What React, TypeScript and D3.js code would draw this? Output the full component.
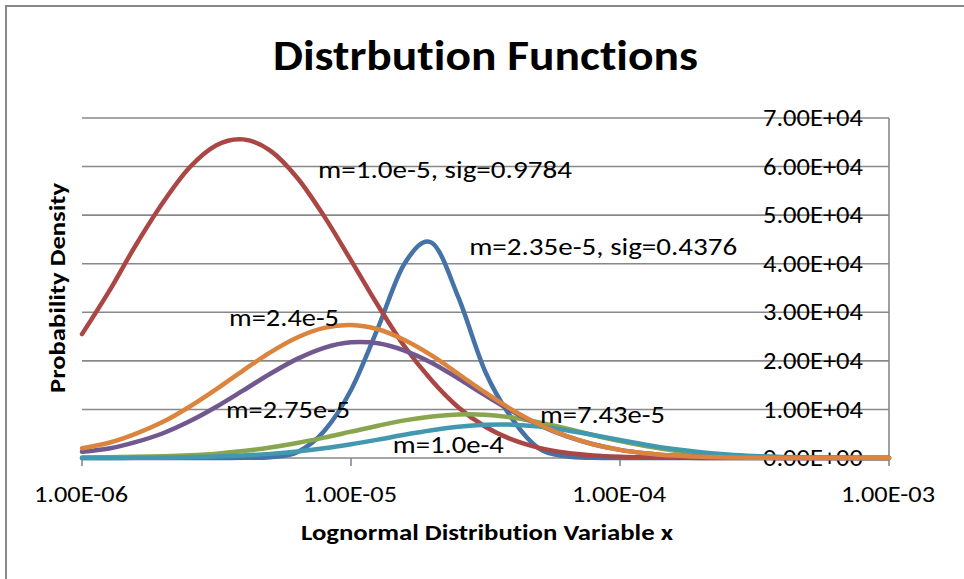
import React from "react";
import * as d3 from "d3";

// x samples (log spaced, as in the source sheet)
const xValues = [
  1.0e-6, 1.26e-6, 1.58e-6, 2.0e-6, 2.51e-6, 3.16e-6, 3.98e-6, 5.01e-6, 6.31e-6, 7.94e-6,
  1.0e-5, 1.26e-5, 1.58e-5, 2.0e-5, 2.51e-5, 3.16e-5, 3.98e-5, 5.01e-5, 6.31e-5, 7.94e-5,
  1.0e-4, 1.26e-4, 1.58e-4, 2.0e-4, 2.51e-4, 3.16e-4, 3.98e-4, 5.01e-4, 6.31e-4, 7.94e-4,
  1.0e-3,
];

const blueValues = [
  0, 0, 0, 0, 0, 5, 30, 150, 1200, 5500,
  14000, 26800, 40000, 44300, 33000, 17700, 8000, 1900, 350, 30,
  0, 0, 0, 0, 0, 0, 0, 0, 0, 0,
  0,
];
const redValues = [
  25500, 34300, 43700, 52600, 59800, 64400, 65600, 63300, 57700, 49800,
  40700, 31400, 23000, 15900, 10400, 6430, 3770, 2090, 1090, 540,
  255, 113, 47, 20, 8, 3, 1, 0, 0, 0,
  0,
];
const greenValues = [
  100, 160, 250, 380, 580, 900, 1420, 2150, 3080, 4190,
  5420, 6650, 7740, 8550, 8960, 8900, 8330, 7330, 6080, 4740,
  3480, 2400, 1560, 960, 550, 300, 150, 73, 33, 14,
  6,
];
const purpleValues = [
  1300, 1960, 3260, 5100, 7550, 10550, 13920, 17340, 20410, 22690,
  23820, 23610, 22110, 19560, 16340, 12880, 9600, 6760, 4490, 2820,
  1670, 930, 490, 250, 116, 52, 22, 9, 4, 1,
  0,
];
const tealValues = [
  7, 16, 37, 77, 153, 286, 507, 850, 1340, 2010,
  2840, 3790, 4780, 5700, 6420, 6830, 6860, 6480, 5730, 4750,
  3700, 2690, 1840, 1180, 710, 400, 210, 104, 48, 21,
  9,
];
const orangeValues = [
  2000, 3130, 4960, 7440, 10560, 14190, 18060, 21760, 24820, 26800,
  27400, 26510, 24280, 21060, 17290, 13440, 9890, 6890, 4540, 2830,
  1670, 940, 500, 250, 120, 55, 24, 10, 4, 2,
  1,
];

const xTicks = [1e-6, 1e-5, 1e-4, 1e-3];

// labels placed on the chart (anchor in data units: left edge, baseline)
const annotations = [
  { text: "m=1.0e-5, sig=0.9784", x: 7.54e-6, y: 57650, w: 254 },
  { text: "m=2.35e-5, sig=0.4376", x: 2.75e-5, y: 41800, w: 268 },
  { text: "m=2.4e-5", x: 3.52e-6, y: 27180, w: 110 },
  { text: "m=2.75e-5", x: 3.43e-6, y: 8240, w: 124 },
  { text: "m=7.43e-5", x: 5.04e-5, y: 7200, w: 125 },
  { text: "m=1.0e-4", x: 1.43e-5, y: 1030, w: 111 },
];

const series = [
  { color: "#4572A7", values: blueValues },
  { color: "#AA4643", values: redValues },
  { color: "#89A54E", values: greenValues },
  { color: "#71588F", values: purpleValues },
  { color: "#4198AF", values: tealValues },
  { color: "#DB843D", values: orangeValues },
];

const FONT = "Carlito, Calibri, Lato, sans-serif";
const noLig = { fontVariantLigatures: "none" as const };

const fmt = (v: number) => {
  const [m, e] = v.toExponential(2).split("e");
  const n = +e;
  return `${m}E${n < 0 ? "-" : "+"}${String(Math.abs(n)).padStart(2, "0")}`;
};

export default function App() {
  const width = 964;
  const height = 579;
  const left = 82;
  const right = 889;
  const top = 118;
  const bottom = 458;

  const x = d3.scaleLog().domain([1e-6, 1e-3]).range([left, right]);
  const y = d3.scaleLinear().domain([0, 70000]).range([bottom, top]);

  const line = d3
    .line<number>()
    .x((d, i) => x(xValues[i]))
    .y((d) => y(d))
    .curve(d3.curveCardinal.tension(0));

  const yTicks = y.ticks(7);

  return (
    <svg
      width={width}
      height={height}
      style={{ position: "absolute", left: 0, top: 0, background: "#fff" }}
    >
      <rect x={6} y={6} width={1000} height={1000} fill="#fff" stroke="#888" strokeWidth={2} />

      <text
        x={485.5}
        y={70}
        textAnchor="middle"
        fontFamily={FONT}
        fontWeight="bold"
        fontSize={42}
        textLength={425}
        lengthAdjust="spacingAndGlyphs"
        style={noLig}
      >
        Distrbution Functions
      </text>

      {yTicks.map((t) => (
        <line key={"g" + t} x1={left} x2={right} y1={y(t)} y2={y(t)} stroke="#888" strokeWidth={1.6} />
      ))}
      <line x1={right} x2={right} y1={top} y2={bottom} stroke="#888" strokeWidth={1.6} />
      {xTicks.map((t) => (
        <line key={"t" + t} x1={x(t)} x2={x(t)} y1={bottom} y2={bottom + 8} stroke="#888" strokeWidth={1.6} />
      ))}

      {yTicks.map((t) => (
        <text
          key={"yl" + t}
          x={863}
          y={y(t)}
          dy="0.34em"
          textAnchor="end"
          fontFamily={FONT}
          fontSize={24}
          textLength={100}
          lengthAdjust="spacingAndGlyphs"
        >
          {fmt(t)}
        </text>
      ))}
      {xTicks.map((t) => (
        <text
          key={"xl" + t}
          x={x(t) - 1}
          y={502}
          textAnchor="middle"
          fontFamily={FONT}
          fontSize={23}
          textLength={94}
          lengthAdjust="spacingAndGlyphs"
        >
          {fmt(t)}
        </text>
      ))}

      {series.map((s, i) => (
        <path
          key={i}
          d={line(s.values) || ""}
          fill="none"
          stroke={s.color}
          strokeWidth={4.5}
          strokeLinecap="round"
          strokeLinejoin="round"
        />
      ))}

      {annotations.map((a) => (
        <text
          key={a.text}
          x={x(a.x)}
          y={y(a.y)}
          fontFamily={FONT}
          fontSize={25}
          textLength={a.w}
          lengthAdjust="spacingAndGlyphs"
        >
          {a.text}
        </text>
      ))}

      <text
        transform="translate(65,288) rotate(-90)"
        textAnchor="middle"
        fontFamily={FONT}
        fontWeight="bold"
        fontSize={23}
        textLength={210}
        lengthAdjust="spacingAndGlyphs"
        style={noLig}
      >
        Probability Density
      </text>
      <text
        x={487}
        y={540}
        textAnchor="middle"
        fontFamily={FONT}
        fontWeight="bold"
        fontSize={22}
        textLength={372}
        lengthAdjust="spacingAndGlyphs"
        style={noLig}
      >
        Lognormal Distribution Variable x
      </text>
    </svg>
  );
}
